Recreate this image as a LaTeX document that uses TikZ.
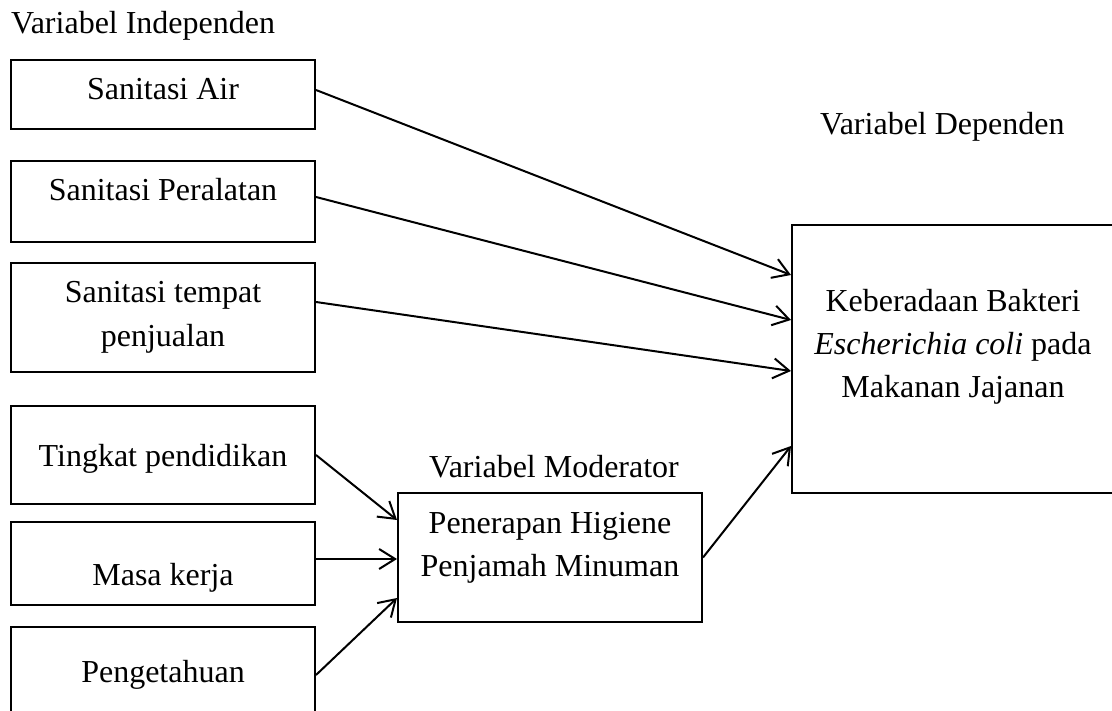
\documentclass[tikz,border=0pt]{standalone}
\usepackage{fontspec}
\setmainfont{Liberation Serif}
\usetikzlibrary{arrows.meta}
\begin{document}
\begin{tikzpicture}[x=1pt,y=-1pt,
  box/.style={draw=black, line width=2pt, rectangle, inner sep=0pt},
  txt/.style={font=\fontsize{32}{44}\selectfont, inner sep=0pt, anchor=base},
  lbl/.style={font=\fontsize{32}{44}\selectfont, inner sep=0pt, anchor=base west},
  conn/.style={line width=2pt, -{Straight Barb[length=16pt,width=20pt]}}]
\useasboundingbox (0,0) rectangle (1112,711);

% boxes
\node[box, minimum width=304pt, minimum height=69pt]  (sa)  at (163,94.5) {};
\node[box, minimum width=304pt, minimum height=81pt]  (sp)  at (163,201.5) {};
\node[box, minimum width=304pt, minimum height=109pt] (st)  at (163,317.5) {};
\node[box, minimum width=304pt, minimum height=98pt]  (tp)  at (163,455) {};
\node[box, minimum width=304pt, minimum height=83pt]  (mk)  at (163,563.5) {};
\node[box, minimum width=304pt, minimum height=96pt]  (pg)  at (163,675) {};
\node[box, minimum width=304pt, minimum height=129pt] (mid) at (550,557.5) {};
\node[box, minimum width=322pt, minimum height=268pt] (dep) at (953,359) {};

% texts
\node[lbl] (lind) at (11,34) {Variabel Independen};
\node[lbl] (ldep) at (820,135) {Variabel Dependen};
\node[lbl] (lmod) at (429,478) {Variabel Moderator};

\node[txt] (tsa)  at (163,100) {Sanitasi Air};
\node[txt] (tsp)  at (163,201) {Sanitasi Peralatan};
\node[txt] (tst1) at (163,303) {Sanitasi tempat};
\node[txt] (tst2) at (163,347) {penjualan};
\node[txt] (ttp)  at (163,467) {Tingkat pendidikan};
\node[txt] (tmk)  at (163,585) {Masa kerja};
\node[txt] (tpg)  at (163,682) {Pengetahuan};
\node[txt] (tmi1) at (550,533) {Penerapan Higiene};
\node[txt] (tmi2) at (550,576) {Penjamah Minuman};
\node[txt] (td1)  at (953,312) {Keberadaan Bakteri};
\node[txt] (td2)  at (953,355) {\textit{Escherichia coli} pada};
\node[txt] (td3)  at (953,398) {Makanan Jajanan};

% connectors
\draw[conn] ([yshift=4.5pt]sa.east) -- ([yshift=84pt]dep.west);
\draw[conn] ([yshift=4.5pt]sp.east) -- ([yshift=39pt]dep.west);
\draw[conn] ([yshift=15.5pt]st.east) -- ([yshift=-12pt]dep.west);
\draw[conn] (mid.east) -- ([yshift=-87pt]dep.west);
\draw[conn] (tp.east) -- ([yshift=37.5pt]mid.west);
\draw[conn] ([yshift=4.5pt]mk.east) -- ([yshift=-1.5pt]mid.west);
\draw[conn] (pg.east) -- ([yshift=-40.5pt]mid.west);
\end{tikzpicture}
\end{document}
